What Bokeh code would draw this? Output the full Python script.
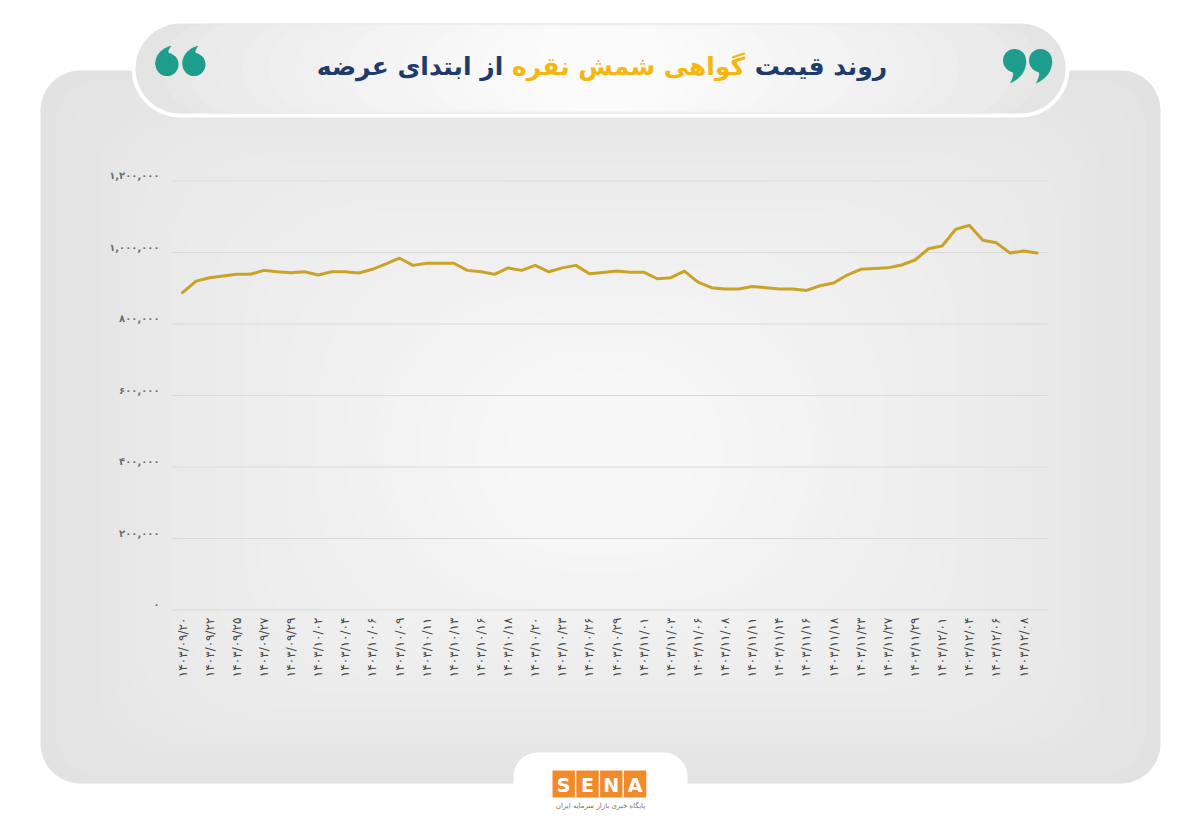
import numpy as np
from bokeh.plotting import figure
from bokeh.models import Range1d
from bokeh.embed import file_html
from bokeh.resources import INLINE
from bokeh.core.properties import value

# ---------------- data ----------------
title_right = "روند قیمت"
title_mid = "گواهی شمش نقره"
title_left = "از ابتدای عرضه"

x_tick_labels = [
    "۱۴۰۳/۰۹/۲۰", "۱۴۰۳/۰۹/۲۲", "۱۴۰۳/۰۹/۲۵", "۱۴۰۳/۰۹/۲۷", "۱۴۰۳/۰۹/۲۹",
    "۱۴۰۳/۱۰/۰۲", "۱۴۰۳/۱۰/۰۴", "۱۴۰۳/۱۰/۰۶", "۱۴۰۳/۱۰/۰۹", "۱۴۰۳/۱۰/۱۱",
    "۱۴۰۳/۱۰/۱۳", "۱۴۰۳/۱۰/۱۶", "۱۴۰۳/۱۰/۱۸", "۱۴۰۳/۱۰/۲۰", "۱۴۰۳/۱۰/۲۳",
    "۱۴۰۳/۱۰/۲۶", "۱۴۰۳/۱۰/۲۹", "۱۴۰۳/۱۱/۰۱", "۱۴۰۳/۱۱/۰۳", "۱۴۰۳/۱۱/۰۶",
    "۱۴۰۳/۱۱/۰۸", "۱۴۰۳/۱۱/۱۱", "۱۴۰۳/۱۱/۱۴", "۱۴۰۳/۱۱/۱۶", "۱۴۰۳/۱۱/۱۸",
    "۱۴۰۳/۱۱/۲۳", "۱۴۰۳/۱۱/۲۷", "۱۴۰۳/۱۱/۲۹", "۱۴۰۳/۱۲/۰۱", "۱۴۰۳/۱۲/۰۴",
    "۱۴۰۳/۱۲/۰۶", "۱۴۰۳/۱۲/۰۸",
]

prices = [
    887500, 920000, 929500, 934000, 939000, 939000, 950000, 946000, 943500, 946000,
    937000, 946000, 946000, 942500, 953000, 968000, 984000, 964000, 970000, 970000,
    970000, 950000, 946000, 939000, 957000, 950000, 964000, 946000, 957000, 964000,
    940500, 944000, 948000, 945000, 945000, 926500, 929500, 948000, 917000, 901500,
    898000, 898000, 905000, 901500, 898000, 898000, 894000, 907000, 914500, 937000,
    953000, 955500, 957000, 965000, 979000, 1010500, 1018000, 1065000, 1076000, 1034000,
    1027000, 998500, 1004000, 998500,
]

y_tick_values = [0, 200000, 400000, 600000, 800000, 1000000, 1200000]
y_tick_labels = ["۰", "۲۰۰,۰۰۰", "۴۰۰,۰۰۰", "۶۰۰,۰۰۰", "۸۰۰,۰۰۰", "۱,۰۰۰,۰۰۰", "۱,۲۰۰,۰۰۰"]

logo_letters = ["S", "E", "N", "A"]
logo_caption = "پایگاه خبری بازار سرمایه ایران"

# ---------------- layout (page pixel coordinates) ----------------
W, H = 1184, 815
PX0, PY0 = 0, 0
FIRST_X, STEP_X = 182.0, 13.565
ZERO_Y, TOP_Y, TOP_V = 609.5, 180.5, 1200000.0
k = (ZERO_Y - TOP_Y) / TOP_V

idx_range = Range1d((PX0 - FIRST_X) / STEP_X, (PX0 + W - FIRST_X) / STEP_X)
val_range = Range1d((ZERO_Y - (PY0 + H)) / k, (ZERO_Y - PY0) / k)

p = figure(width=W, height=H,
           x_range=Range1d(PX0, PX0 + W), y_range=Range1d(PY0 + H, PY0),
           output_backend="svg", toolbar_location=None,
           x_axis_location=None, y_axis_location=None,
           min_border=0, outline_line_color=None,
           background_fill_color="white", border_fill_color="white")
p.xgrid.visible = False
p.ygrid.visible = False
p.extra_x_ranges = {"idx": idx_range}
p.extra_y_ranges = {"val": val_range}


def rrect(x0, y0, x1, y1, r, n=16):
    r = min(r, (x1 - x0) / 2, (y1 - y0) / 2)
    xs, ys = [], []
    for cx, cy, a0 in [(x0 + r, y0 + r, np.pi), (x1 - r, y0 + r, 1.5 * np.pi),
                       (x1 - r, y1 - r, 0.0), (x0 + r, y1 - r, 0.5 * np.pi)]:
        t = np.linspace(a0, a0 + np.pi / 2, n)
        xs += list(cx + r * np.cos(t))
        ys += list(cy + r * np.sin(t))
    return xs, ys


def mix(c0, c1, t):
    a = [int(c0[i:i + 2], 16) for i in (1, 3, 5)]
    b = [int(c1[i:i + 2], 16) for i in (1, 3, 5)]
    return "#%02x%02x%02x" % tuple(int(round(a[j] + (b[j] - a[j]) * t)) for j in range(3))


def bez(p0, c, p1, n=14):
    t = np.linspace(0, 1, n)
    x = (1 - t) ** 2 * p0[0] + 2 * (1 - t) * t * c[0] + t ** 2 * p1[0]
    y = (1 - t) ** 2 * p0[1] + 2 * (1 - t) * t * c[1] + t ** 2 * p1[1]
    return list(x), list(y)


def quote_tail(cx, cy, r, L, flip):
    # "6"-shaped tail (y down); flip=True rotates 180 deg to make a "9"
    tip = (cx + 0.35 * r, cy - r - L)
    ox, oy = bez((cx - r, cy), (cx - r, cy - r - 0.35 * L), tip)
    ix, iy = bez(tip, (cx - 0.15 * r, cy - 0.95 * r), (cx + 0.35 * r, cy - 0.92 * r))
    xs, ys = ox + ix, oy + iy
    if flip:
        xs = [2 * cx - v for v in xs]
        ys = [2 * cy - v for v in ys]
    return xs, ys


# big panel with radial-ish gradient
N = 34
pxs, pys, pcs = [], [], []
for i in range(N):
    t = i / (N - 1)
    xs, ys = rrect(40 + t * 480, 70 + t * 310, 1160 - t * 480, 783 - t * 250, 40 + t * 200)
    pxs.append(xs); pys.append(ys); pcs.append(mix("#e2e2e2", "#f7f7f7", t ** 0.75))
p.patches(pxs, pys, fill_color=pcs, line_color=None)

# title pill
xs, ys = rrect(131, 19, 1069, 117, 49)
p.patch(xs, ys, fill_color="white", line_color=None)
N2 = 16
qxs, qys, qcs = [], [], []
for i in range(N2):
    t = i / (N2 - 1)
    xs, ys = rrect(135 + t * 400, 23 + t * 3, 1065 - t * 400, 113 - t * 3, 45)
    qxs.append(xs); qys.append(ys); qcs.append(mix("#e4e4e4", "#fbfbfb", t ** 0.7))
p.patches(qxs, qys, fill_color=qcs, line_color=None)

# quote marks
teal = "#1f9d8c"
q_cx = [166.5, 193.5, 1014.0, 1040.0]
q_cy = [64.0, 64.0, 60.0, 60.0]
tx, ty = [], []
for cx, cy, fl in zip(q_cx, q_cy, [False, False, True, True]):
    a, b = quote_tail(cx, cy, 11.5, 7.0 if not fl else 11.0, fl)
    tx.append(a); ty.append(b)
p.patches(tx, ty, fill_color=teal, line_color=teal, line_width=0.5)
p.circle(x=q_cx, y=q_cy, radius=11.5, fill_color=teal, line_color=None)

# title
for txt, cx, col in [(title_right, 820.5, "#1d3c6b"), (title_mid, 628, "#f3b710"),
                     (title_left, 409.5, "#1d3c6b")]:
    p.text(x=[cx], y=[66], text=[txt], text_font=value("DejaVu Sans"),
           text_font_style="bold", text_font_size="25px", text_color=col,
           text_align="center", text_baseline="middle")

# logo tab
xs, ys = rrect(513, 752, 687, 860, 24)
p.patch(xs, ys, fill_color="white", line_color=None)
lx = [552 + 23.8 * i for i in range(4)]
p.quad(left=lx, right=[v + 22.4 for v in lx], top=[770] * 4, bottom=[797] * 4,
       fill_color="#f08a2b", line_color=None)
p.text(x=[v + 11.2 for v in lx], y=[784] * 4, text=logo_letters,
       text_font=value("DejaVu Sans"), text_font_style="bold", text_font_size="19px",
       text_color="white", text_align="center", text_baseline="middle")
p.text(x=[600], y=[805], text=[logo_caption], text_font=value("DejaVu Sans"),
       text_font_size="7px", text_color="#8a6f55", text_align="center",
       text_baseline="middle")

# grid lines
p.segment(x0=[172] * len(y_tick_values), x1=[1047] * len(y_tick_values),
          y0=y_tick_values, y1=y_tick_values, y_range_name="val",
          line_color="#d9d9d9", line_width=1)

# y tick labels
p.text(x=[159] * len(y_tick_values), y=y_tick_values, text=y_tick_labels,
       y_range_name="val", text_font=value("DejaVu Sans"), text_font_style="bold",
       text_font_size="10px", text_color="#6e6e6e", text_align="right",
       text_baseline="bottom")

# x tick labels (every other category)
x_tick_pos = list(range(0, len(prices), 2))
p.text(x=x_tick_pos, y=[617] * len(x_tick_pos), text=x_tick_labels,
       x_range_name="idx", text_font=value("DejaVu Sans"), text_font_size="12px",
       text_color="#474747", angle=np.pi / 2, text_align="right",
       text_baseline="middle")

# data line
p.line(x=list(range(len(prices))), y=prices, x_range_name="idx", y_range_name="val",
       line_color="#c9a227", line_width=3, line_join="round", line_cap="round")

open("out.html", "w").write(file_html(p, INLINE))
